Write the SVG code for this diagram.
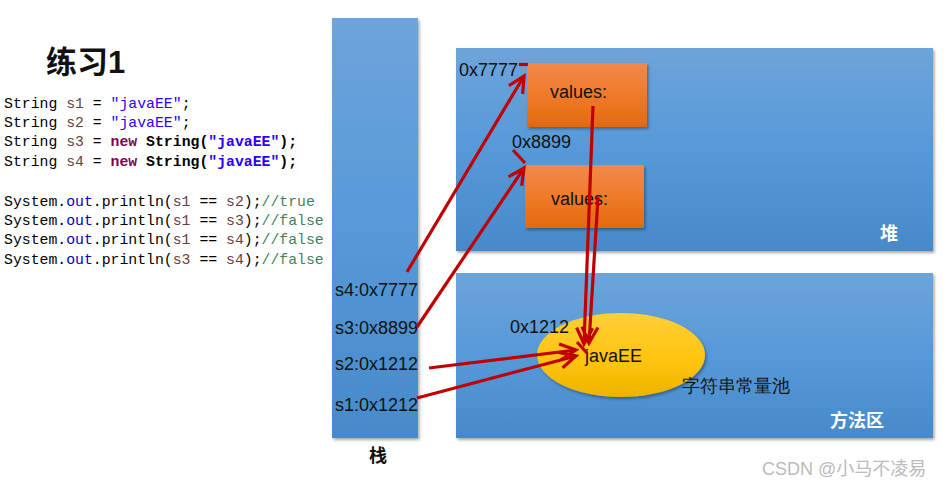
<svg xmlns="http://www.w3.org/2000/svg" width="948" height="487" viewBox="0 0 948 487">
<defs>
<linearGradient id="gBlue" x1="0" y1="0" x2="0" y2="1">
<stop offset="0" stop-color="#6EA4DA"/><stop offset="0.5" stop-color="#5699D9"/><stop offset="1" stop-color="#478AC9"/>
</linearGradient>
<linearGradient id="gOrange" x1="0" y1="0" x2="0" y2="1">
<stop offset="0" stop-color="#F1894C"/><stop offset="0.5" stop-color="#F07A2A"/><stop offset="1" stop-color="#E4690E"/>
</linearGradient>
<linearGradient id="gYellow" x1="0" y1="0" x2="0" y2="1">
<stop offset="0" stop-color="#FFCF3A"/><stop offset="0.6" stop-color="#FFC30A"/><stop offset="1" stop-color="#ECB300"/>
</linearGradient>
<filter id="sh" x="-5%" y="-5%" width="110%" height="115%">
<feDropShadow dx="1.5" dy="2" stdDeviation="1.5" flood-color="#000" flood-opacity="0.35"/>
</filter>
<marker id="ah" markerUnits="userSpaceOnUse" markerWidth="22" markerHeight="22" viewBox="0 0 22 22" refX="19" refY="11" orient="auto">
<path d="M3,3 L19,11 L3,19" fill="none" stroke="#C00000" stroke-width="3.2"/>
</marker>
<style>
.code{font-family:"Liberation Mono","DejaVu Sans Mono",monospace;font-size:14.8px;fill:#000;white-space:pre}
.v{fill:#6A3E3E}.s{fill:#2A00FF}.k{fill:#7F0055;font-weight:bold}.b{font-weight:bold}.f{fill:#0000C0}.c{fill:#3F7F5F}
.lbl{font-family:"Liberation Sans",Arial,sans-serif;font-size:18px;fill:#111}
.zh{font-family:"Liberation Sans","Noto Sans CJK SC",sans-serif;font-weight:bold;font-size:18px}
.area{fill:url(#gBlue);filter:url(#sh)}
.obj{fill:url(#gOrange);filter:url(#sh)}
.conn{fill:none;stroke:#C00000;stroke-width:3.2}
</style>
</defs>
<rect width="948" height="487" fill="#fff"/>
<g id="title">
<text x="46" y="73" font-family="'Liberation Sans','Noto Sans CJK SC',sans-serif" font-weight="bold" font-size="31" fill="#111">练习1</text>
</g>
<g id="code" class="code">
<text x="4" y="108">String <tspan class="v">s1</tspan> = <tspan class="s">"javaEE"</tspan>;</text>
<text x="4" y="127">String <tspan class="v">s2</tspan> = <tspan class="s">"javaEE"</tspan>;</text>
<text x="4" y="146">String <tspan class="v">s3</tspan> = <tspan class="k">new</tspan> <tspan class="b">String(</tspan><tspan class="s b">"javaEE"</tspan><tspan class="b">);</tspan></text>
<text x="4" y="166">String <tspan class="v">s4</tspan> = <tspan class="k">new</tspan> <tspan class="b">String(</tspan><tspan class="s b">"javaEE"</tspan><tspan class="b">);</tspan></text>
<text x="4" y="206">System.<tspan class="f">out</tspan>.println(<tspan class="v">s1</tspan> == <tspan class="v">s2</tspan>);<tspan class="c">//true</tspan></text>
<text x="4" y="225">System.<tspan class="f">out</tspan>.println(<tspan class="v">s1</tspan> == <tspan class="v">s3</tspan>);<tspan class="c">//false</tspan></text>
<text x="4" y="244">System.<tspan class="f">out</tspan>.println(<tspan class="v">s1</tspan> == <tspan class="v">s4</tspan>);<tspan class="c">//false</tspan></text>
<text x="4" y="264">System.<tspan class="f">out</tspan>.println(<tspan class="v">s3</tspan> == <tspan class="v">s4</tspan>);<tspan class="c">//false</tspan></text>
</g>
<g id="stack">
<rect class="area" x="332" y="18" width="86" height="420"/>
<text class="lbl" x="335" y="296">s4:0x7777</text>
<text class="lbl" x="335" y="334">s3:0x8899</text>
<text class="lbl" x="335" y="370">s2:0x1212</text>
<text class="lbl" x="335" y="411">s1:0x1212</text>
<text class="zh" x="369" y="462" fill="#111">栈</text>
</g>
<g id="heap">
<rect class="area" x="456" y="48" width="477" height="203"/>
<text class="zh" x="880" y="240" fill="#fff">堆</text>
</g>
<g id="obj1">
<rect class="obj" x="527" y="63" width="120" height="64"/>
<text class="lbl" x="459" y="76">0x7777</text>
<text class="lbl" x="550" y="98">values:</text>
</g>
<g id="obj2">
<rect class="obj" x="525" y="165" width="119" height="63"/>
<text class="lbl" x="512" y="148">0x8899</text>
<text class="lbl" x="551" y="205">values:</text>
</g>
<g id="method">
<rect class="area" x="456" y="273" width="477" height="165"/>
<text class="zh" x="830" y="427" fill="#fff">方法区</text>
</g>
<g id="pool">
<ellipse cx="621" cy="355" rx="84" ry="42" fill="url(#gYellow)" filter="url(#sh)"/>
<text class="lbl" x="510" y="333">0x1212</text>
<text class="lbl" x="585" y="362">javaEE</text>
<text class="lbl" x="682" y="392" font-family="'Liberation Sans','Noto Sans CJK SC',sans-serif">字符串常量池</text>
</g>
<g id="connectors">
<line class="conn" x1="407" y1="272" x2="524" y2="76" marker-end="url(#ah)"/>
<line class="conn" x1="519" y1="64.5" x2="528" y2="64.5"/>
<line class="conn" x1="417" y1="327" x2="524" y2="168" marker-end="url(#ah)"/>
<line class="conn" x1="513" y1="150" x2="525" y2="163"/>
<line class="conn" x1="429" y1="368" x2="576" y2="350" marker-end="url(#ah)"/>
<line class="conn" x1="417" y1="398" x2="576" y2="356" marker-end="url(#ah)"/>
<line class="conn" x1="593" y1="106" x2="584" y2="344" marker-end="url(#ah)"/>
<line class="conn" x1="598" y1="197" x2="589" y2="343" marker-end="url(#ah)"/>
<line class="conn" x1="577" y1="342" x2="587" y2="353"/>
</g>
<g id="watermark">
<text x="762" y="475" font-family="'Liberation Sans','Noto Sans CJK SC',sans-serif" font-size="18" fill="#bbb">CSDN @小马不凌易</text>
</g>
</svg>
